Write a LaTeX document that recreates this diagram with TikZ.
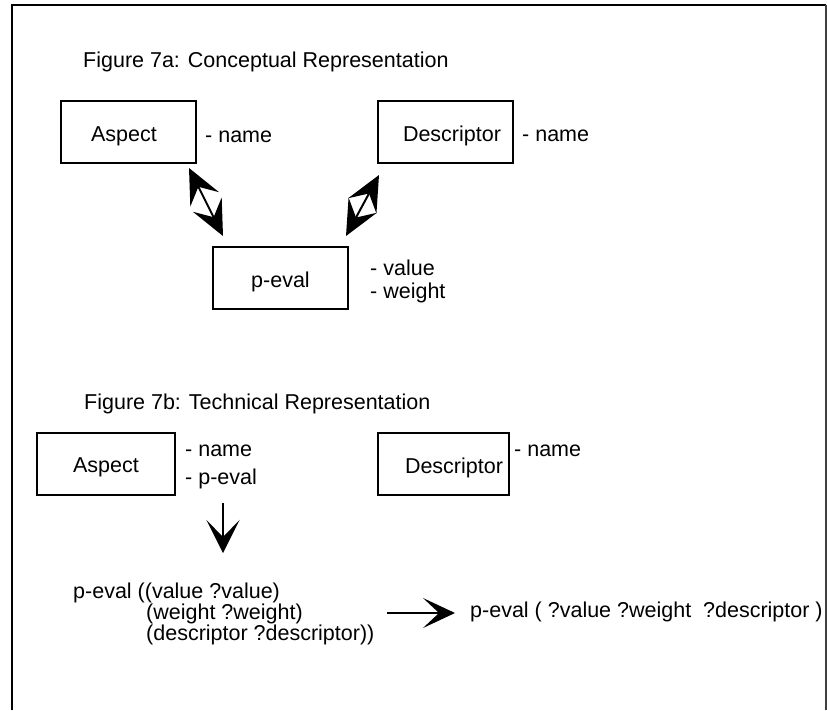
\documentclass[tikz,border=0pt]{standalone}
\usepackage{fontspec}
\setmainfont{Liberation Sans}
\usetikzlibrary{arrows.meta}
\begin{document}
\begin{tikzpicture}[x=1pt,y=-1pt,
  every node/.style={font=\fontsize{21.5}{24}\selectfont, inner sep=0pt},
  txt/.style={anchor=base west},
  box/.style={draw, line width=2pt, minimum width=135pt, minimum height=62pt, text height=18pt, text depth=0pt},
  bigtip/.style={line width=2pt},
  dbl/.style={bigtip, {Stealth[length=35pt,width=32pt,inset=14pt]}-{Stealth[length=35pt,width=32pt,inset=14pt]}},
  sgl/.style={bigtip, -{Stealth[length=33pt,width=33pt,inset=17pt]}}]
\useasboundingbox (0,0) rectangle (827,710);
% frame
\draw[line width=2.4pt] (12,710) -- (12,5) -- (826,5);
\draw[line width=1.5pt, black!75] (826,5) -- (826,710);
% Figure 7a
\node[txt] (t7a) at (83,67) {Figure 7a: Conceptual Representation};
\node[box] (asp) at (128.5,132) {\hspace*{-9pt}Aspect};
\node[txt] (aspn) at (205,142) {- name};
\node[box] (desc) at (445.5,132) {\hspace*{13pt}Descriptor};
\node[txt] (descn) at (522,141) {- name};
\node[box] (pe) at (280.5,278) {p-eval};
\node[txt] (pev) at (370,275) {- value};
\node[txt] (pew) at (370,298) {- weight};
\draw[dbl] ([xshift=-8pt,yshift=-4pt]asp.south east) -- ([xshift=11pt,yshift=10pt]pe.north west);
\draw[dbl] ([xshift=2pt,yshift=-11pt]desc.south west) -- ([xshift=-3pt,yshift=10pt]pe.north east);
% Figure 7b
\node[txt] (t7b) at (84,409) {Figure 7b: Technical Representation};
\node[box, minimum width=138pt] (asp2) at (106,463.5) {Aspect};
\node[txt] (asp2n) at (185,456) {- name};
\node[txt] (asp2p) at (185,484) {- p-eval};
\node[box, minimum width=131pt] (desc2) at (443.5,464) {\hspace*{21pt}Descriptor};
\node[txt] (desc2n) at (514,456) {- name};
\node[txt] (c1) at (73,598) {p-eval ((value ?value)};
\node[txt] (c2) at (146,619) {(weight ?weight)};
\node[txt] (c3) at (146,640) {(descriptor ?descriptor))};
\node[txt] (res) at (470,617) {p-eval ( ?value ?weight\ \ ?descriptor )};
\coordinate (d1) at (223,503);
\coordinate (d2) at (223,553);
\draw[sgl] (d1) -- (d2);
\coordinate (r1) at (387,613);
\coordinate (r2) at (455,613);
\draw[bigtip, -{Stealth[length=32pt,width=30pt,inset=16pt]}] (r1) -- (r2);
\end{tikzpicture}
\end{document}
